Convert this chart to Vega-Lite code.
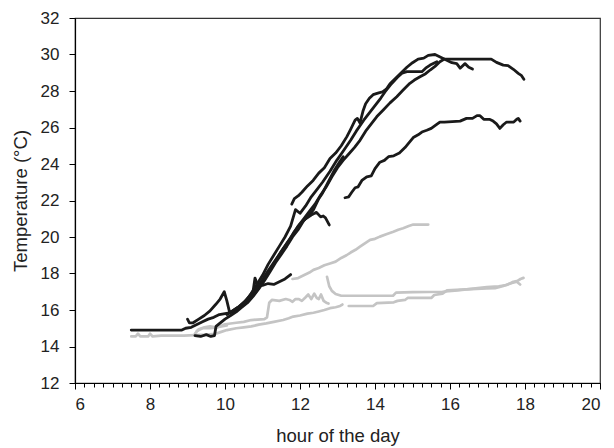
{
  "$schema": "https://vega.github.io/schema/vega-lite/v6.json",
  "width": 525,
  "height": 365,
  "autosize": "none",
  "padding": {"left": 75, "top": 18, "right": 14, "bottom": 65},
  "background": "white",
  "config": {
    "font": "Liberation Sans",
    "view": {"stroke": "#333", "strokeWidth": 1.2},
    "axis": {"grid": false, "domainColor": "#000", "tickColor": "#000", "labelColor": "#222", "titleColor": "#222", "labelFontSize": 17, "titleFontSize": 18.5, "titleFontWeight": "normal", "domainWidth": 1.2, "tickWidth": 1}
  },
  "data": {"values": [
    {"s":"B1","g":"k","x":11.78,"y":21.8},{"s":"B1","g":"k","x":11.85,"y":22.1},{"s":"B1","g":"k","x":11.95,"y":22.25},{"s":"B1","g":"k","x":12.05,"y":22.45},{"s":"B1","g":"k","x":12.2,"y":22.8},{"s":"B1","g":"k","x":12.35,"y":23.1},{"s":"B1","g":"k","x":12.5,"y":23.5},{"s":"B1","g":"k","x":12.65,"y":23.8},{"s":"B1","g":"k","x":12.8,"y":24.3},{"s":"B1","g":"k","x":12.95,"y":24.6},{"s":"B1","g":"k","x":13.1,"y":25.0},{"s":"B1","g":"k","x":13.25,"y":25.5},{"s":"B1","g":"k","x":13.35,"y":25.9},{"s":"B1","g":"k","x":13.47,"y":26.4},{"s":"B1","g":"k","x":13.53,"y":26.5},{"s":"B1","g":"k","x":13.6,"y":26.25},{"s":"B1","g":"k","x":13.68,"y":26.9},{"s":"B1","g":"k","x":13.75,"y":27.3},{"s":"B1","g":"k","x":13.85,"y":27.6},{"s":"B1","g":"k","x":13.95,"y":27.8},{"s":"B1","g":"k","x":14.1,"y":27.9},{"s":"B1","g":"k","x":14.2,"y":27.95},{"s":"B1","g":"k","x":14.3,"y":28.1},{"s":"B1","g":"k","x":14.4,"y":28.4},{"s":"B1","g":"k","x":14.55,"y":28.7},{"s":"B1","g":"k","x":14.7,"y":29.0},{"s":"B1","g":"k","x":14.85,"y":29.3},{"s":"B1","g":"k","x":15.0,"y":29.55},{"s":"B1","g":"k","x":15.15,"y":29.75},{"s":"B1","g":"k","x":15.3,"y":29.8},{"s":"B1","g":"k","x":15.42,"y":29.95},{"s":"B1","g":"k","x":15.6,"y":30.0},{"s":"B1","g":"k","x":15.75,"y":29.85},{"s":"B1","g":"k","x":15.9,"y":29.7},{"s":"B1","g":"k","x":16.05,"y":29.55},{"s":"B1","g":"k","x":16.18,"y":29.5},{"s":"B1","g":"k","x":16.27,"y":29.25},{"s":"B1","g":"k","x":16.4,"y":29.5},{"s":"B1","g":"k","x":16.5,"y":29.3},{"s":"B1","g":"k","x":16.6,"y":29.2},
    {"s":"B2","g":"k","x":9.0,"y":15.5},{"s":"B2","g":"k","x":9.05,"y":15.3},{"s":"B2","g":"k","x":9.15,"y":15.3},{"s":"B2","g":"k","x":9.3,"y":15.5},{"s":"B2","g":"k","x":9.45,"y":15.7},{"s":"B2","g":"k","x":9.6,"y":15.95},{"s":"B2","g":"k","x":9.75,"y":16.3},{"s":"B2","g":"k","x":9.87,"y":16.6},{"s":"B2","g":"k","x":9.98,"y":17.0},{"s":"B2","g":"k","x":10.05,"y":16.5},{"s":"B2","g":"k","x":10.12,"y":15.9},{"s":"B2","g":"k","x":10.25,"y":15.95},{"s":"B2","g":"k","x":10.4,"y":16.2},{"s":"B2","g":"k","x":10.55,"y":16.5},{"s":"B2","g":"k","x":10.7,"y":16.9},{"s":"B2","g":"k","x":10.85,"y":17.4},{"s":"B2","g":"k","x":11.0,"y":17.9},{"s":"B2","g":"k","x":11.15,"y":18.5},{"s":"B2","g":"k","x":11.3,"y":19.0},{"s":"B2","g":"k","x":11.45,"y":19.5},{"s":"B2","g":"k","x":11.6,"y":20.0},{"s":"B2","g":"k","x":11.75,"y":20.6},{"s":"B2","g":"k","x":11.88,"y":21.5},{"s":"B2","g":"k","x":12.0,"y":21.3},{"s":"B2","g":"k","x":12.15,"y":21.7},{"s":"B2","g":"k","x":12.3,"y":22.2},{"s":"B2","g":"k","x":12.45,"y":22.6},{"s":"B2","g":"k","x":12.6,"y":23.0},{"s":"B2","g":"k","x":12.8,"y":23.6},{"s":"B2","g":"k","x":12.98,"y":24.2},{"s":"B2","g":"k","x":13.15,"y":24.7},{"s":"B2","g":"k","x":13.35,"y":25.3},{"s":"B2","g":"k","x":13.5,"y":25.8},{"s":"B2","g":"k","x":13.7,"y":26.4},{"s":"B2","g":"k","x":13.85,"y":26.8},{"s":"B2","g":"k","x":14.0,"y":27.2},{"s":"B2","g":"k","x":14.15,"y":27.6},{"s":"B2","g":"k","x":14.27,"y":27.96},{"s":"B2","g":"k","x":14.44,"y":28.4},{"s":"B2","g":"k","x":14.6,"y":28.75},{"s":"B2","g":"k","x":14.72,"y":28.97},{"s":"B2","g":"k","x":14.85,"y":29.06},{"s":"B2","g":"k","x":15.25,"y":29.06},{"s":"B2","g":"k","x":15.35,"y":29.25},{"s":"B2","g":"k","x":15.47,"y":29.42},{"s":"B2","g":"k","x":15.65,"y":29.6},
    {"s":"B3","g":"k","x":7.5,"y":14.9},{"s":"B3","g":"k","x":8.85,"y":14.9},{"s":"B3","g":"k","x":8.95,"y":15.0},{"s":"B3","g":"k","x":9.1,"y":15.05},{"s":"B3","g":"k","x":9.25,"y":15.2},{"s":"B3","g":"k","x":9.4,"y":15.35},{"s":"B3","g":"k","x":9.55,"y":15.5},{"s":"B3","g":"k","x":9.7,"y":15.6},{"s":"B3","g":"k","x":9.85,"y":15.75},{"s":"B3","g":"k","x":10.0,"y":15.8},{"s":"B3","g":"k","x":10.15,"y":15.85},{"s":"B3","g":"k","x":10.3,"y":16.0},{"s":"B3","g":"k","x":10.45,"y":16.2},{"s":"B3","g":"k","x":10.6,"y":16.45},{"s":"B3","g":"k","x":10.75,"y":16.8},{"s":"B3","g":"k","x":10.9,"y":17.2},{"s":"B3","g":"k","x":11.05,"y":17.7},{"s":"B3","g":"k","x":11.2,"y":18.2},{"s":"B3","g":"k","x":11.35,"y":18.7},{"s":"B3","g":"k","x":11.5,"y":19.2},{"s":"B3","g":"k","x":11.65,"y":19.65},{"s":"B3","g":"k","x":11.8,"y":20.1},{"s":"B3","g":"k","x":11.95,"y":20.6},{"s":"B3","g":"k","x":12.1,"y":21.0},{"s":"B3","g":"k","x":12.25,"y":21.4},{"s":"B3","g":"k","x":12.4,"y":21.8},{"s":"B3","g":"k","x":12.55,"y":22.3},{"s":"B3","g":"k","x":12.7,"y":22.75},{"s":"B3","g":"k","x":12.85,"y":23.3},{"s":"B3","g":"k","x":13.0,"y":23.8},{"s":"B3","g":"k","x":13.15,"y":24.2},{"s":"B3","g":"k","x":13.3,"y":24.55},{"s":"B3","g":"k","x":13.45,"y":24.9},{"s":"B3","g":"k","x":13.6,"y":25.3},{"s":"B3","g":"k","x":13.75,"y":25.8},{"s":"B3","g":"k","x":13.9,"y":26.2},{"s":"B3","g":"k","x":14.05,"y":26.6},{"s":"B3","g":"k","x":14.22,"y":26.96},{"s":"B3","g":"k","x":14.4,"y":27.35},{"s":"B3","g":"k","x":14.58,"y":27.69},{"s":"B3","g":"k","x":14.75,"y":28.05},{"s":"B3","g":"k","x":14.93,"y":28.42},{"s":"B3","g":"k","x":15.05,"y":28.6},{"s":"B3","g":"k","x":15.2,"y":28.78},{"s":"B3","g":"k","x":15.35,"y":28.95},{"s":"B3","g":"k","x":15.47,"y":29.15},{"s":"B3","g":"k","x":15.6,"y":29.35},{"s":"B3","g":"k","x":15.73,"y":29.6},{"s":"B3","g":"k","x":15.85,"y":29.75},{"s":"B3","g":"k","x":17.1,"y":29.75},{"s":"B3","g":"k","x":17.24,"y":29.57},{"s":"B3","g":"k","x":17.42,"y":29.42},{"s":"B3","g":"k","x":17.55,"y":29.39},{"s":"B3","g":"k","x":17.69,"y":29.19},{"s":"B3","g":"k","x":17.82,"y":28.97},{"s":"B3","g":"k","x":17.9,"y":28.86},{"s":"B3","g":"k","x":17.97,"y":28.64},
    {"s":"B4","g":"k","x":9.2,"y":14.6},{"s":"B4","g":"k","x":9.35,"y":14.55},{"s":"B4","g":"k","x":9.5,"y":14.65},{"s":"B4","g":"k","x":9.62,"y":14.55},{"s":"B4","g":"k","x":9.72,"y":14.6},{"s":"B4","g":"k","x":9.76,"y":15.1},{"s":"B4","g":"k","x":9.85,"y":15.25},{"s":"B4","g":"k","x":10.0,"y":15.5},{"s":"B4","g":"k","x":10.15,"y":15.7},{"s":"B4","g":"k","x":10.3,"y":15.9},{"s":"B4","g":"k","x":10.45,"y":16.15},{"s":"B4","g":"k","x":10.6,"y":16.4},{"s":"B4","g":"k","x":10.75,"y":16.75},{"s":"B4","g":"k","x":10.9,"y":17.15},{"s":"B4","g":"k","x":11.05,"y":17.6},{"s":"B4","g":"k","x":11.2,"y":18.1},{"s":"B4","g":"k","x":11.35,"y":18.6},{"s":"B4","g":"k","x":11.5,"y":19.05},{"s":"B4","g":"k","x":11.65,"y":19.5},{"s":"B4","g":"k","x":11.8,"y":20.0},{"s":"B4","g":"k","x":11.95,"y":20.4},{"s":"B4","g":"k","x":12.1,"y":20.9},{"s":"B4","g":"k","x":12.25,"y":21.2},{"s":"B4","g":"k","x":12.36,"y":21.5},{"s":"B4","g":"k","x":12.5,"y":22.1},{"s":"B4","g":"k","x":12.6,"y":22.4},{"s":"B4","g":"k","x":12.75,"y":23.0},{"s":"B4","g":"k","x":12.9,"y":23.6},{"s":"B4","g":"k","x":13.05,"y":24.1},{"s":"B4","g":"k","x":13.15,"y":24.4},
    {"s":"B5","g":"k","x":10.05,"y":15.75},{"s":"B5","g":"k","x":10.2,"y":15.95},{"s":"B5","g":"k","x":10.35,"y":16.15},{"s":"B5","g":"k","x":10.5,"y":16.4},{"s":"B5","g":"k","x":10.65,"y":16.7},{"s":"B5","g":"k","x":10.8,"y":17.05},{"s":"B5","g":"k","x":10.95,"y":17.5},{"s":"B5","g":"k","x":11.1,"y":18.0},{"s":"B5","g":"k","x":11.25,"y":18.45},{"s":"B5","g":"k","x":11.4,"y":18.9},{"s":"B5","g":"k","x":11.55,"y":19.35},{"s":"B5","g":"k","x":11.7,"y":19.8},{"s":"B5","g":"k","x":11.85,"y":20.3},{"s":"B5","g":"k","x":12.0,"y":20.7},{"s":"B5","g":"k","x":12.15,"y":21.0},{"s":"B5","g":"k","x":12.3,"y":21.2},{"s":"B5","g":"k","x":12.44,"y":21.35},{"s":"B5","g":"k","x":12.55,"y":21.1},{"s":"B5","g":"k","x":12.62,"y":21.15},{"s":"B5","g":"k","x":12.68,"y":21.05},{"s":"B5","g":"k","x":12.78,"y":20.66},
    {"s":"B6","g":"k","x":10.2,"y":15.95},{"s":"B6","g":"k","x":10.35,"y":16.15},{"s":"B6","g":"k","x":10.5,"y":16.4},{"s":"B6","g":"k","x":10.65,"y":16.75},{"s":"B6","g":"k","x":10.75,"y":17.05},{"s":"B6","g":"k","x":10.8,"y":17.75},{"s":"B6","g":"k","x":10.86,"y":17.4},{"s":"B6","g":"k","x":11.0,"y":17.35},{"s":"B6","g":"k","x":11.15,"y":17.45},{"s":"B6","g":"k","x":11.3,"y":17.4},{"s":"B6","g":"k","x":11.45,"y":17.55},{"s":"B6","g":"k","x":11.6,"y":17.7},{"s":"B6","g":"k","x":11.75,"y":17.94},
    {"s":"B7","g":"k","x":13.2,"y":22.15},{"s":"B7","g":"k","x":13.3,"y":22.2},{"s":"B7","g":"k","x":13.38,"y":22.45},{"s":"B7","g":"k","x":13.47,"y":22.7},{"s":"B7","g":"k","x":13.55,"y":22.75},{"s":"B7","g":"k","x":13.65,"y":23.1},{"s":"B7","g":"k","x":13.78,"y":23.3},{"s":"B7","g":"k","x":13.9,"y":23.35},{"s":"B7","g":"k","x":14.0,"y":23.75},{"s":"B7","g":"k","x":14.13,"y":24.1},{"s":"B7","g":"k","x":14.25,"y":24.2},{"s":"B7","g":"k","x":14.36,"y":24.4},{"s":"B7","g":"k","x":14.5,"y":24.45},{"s":"B7","g":"k","x":14.65,"y":24.6},{"s":"B7","g":"k","x":14.8,"y":24.9},{"s":"B7","g":"k","x":14.92,"y":25.2},{"s":"B7","g":"k","x":15.02,"y":25.45},{"s":"B7","g":"k","x":15.15,"y":25.6},{"s":"B7","g":"k","x":15.25,"y":25.75},{"s":"B7","g":"k","x":15.38,"y":25.85},{"s":"B7","g":"k","x":15.5,"y":25.95},{"s":"B7","g":"k","x":15.6,"y":26.1},{"s":"B7","g":"k","x":15.73,"y":26.3},{"s":"B7","g":"k","x":15.85,"y":26.3},{"s":"B7","g":"k","x":16.27,"y":26.35},{"s":"B7","g":"k","x":16.44,"y":26.5},{"s":"B7","g":"k","x":16.6,"y":26.5},{"s":"B7","g":"k","x":16.72,"y":26.65},{"s":"B7","g":"k","x":16.8,"y":26.65},{"s":"B7","g":"k","x":16.9,"y":26.45},{"s":"B7","g":"k","x":17.05,"y":26.45},{"s":"B7","g":"k","x":17.15,"y":26.35},{"s":"B7","g":"k","x":17.24,"y":26.2},{"s":"B7","g":"k","x":17.33,"y":25.95},{"s":"B7","g":"k","x":17.42,"y":26.15},{"s":"B7","g":"k","x":17.51,"y":26.3},{"s":"B7","g":"k","x":17.7,"y":26.3},{"s":"B7","g":"k","x":17.78,"y":26.45},{"s":"B7","g":"k","x":17.82,"y":26.5},{"s":"B7","g":"k","x":17.87,"y":26.35},
    {"s":"G1","g":"g","x":11.8,"y":17.7},{"s":"G1","g":"g","x":11.95,"y":17.75},{"s":"G1","g":"g","x":12.1,"y":17.9},{"s":"G1","g":"g","x":12.25,"y":18.05},{"s":"G1","g":"g","x":12.36,"y":18.2},{"s":"G1","g":"g","x":12.5,"y":18.3},{"s":"G1","g":"g","x":12.65,"y":18.45},{"s":"G1","g":"g","x":12.8,"y":18.55},{"s":"G1","g":"g","x":12.95,"y":18.65},{"s":"G1","g":"g","x":13.1,"y":18.85},{"s":"G1","g":"g","x":13.24,"y":19.0},{"s":"G1","g":"g","x":13.35,"y":19.15},{"s":"G1","g":"g","x":13.48,"y":19.3},{"s":"G1","g":"g","x":13.6,"y":19.47},{"s":"G1","g":"g","x":13.73,"y":19.65},{"s":"G1","g":"g","x":13.87,"y":19.84},{"s":"G1","g":"g","x":14.0,"y":19.9},{"s":"G1","g":"g","x":14.13,"y":20.02},{"s":"G1","g":"g","x":14.3,"y":20.15},{"s":"G1","g":"g","x":14.49,"y":20.29},{"s":"G1","g":"g","x":14.62,"y":20.4},{"s":"G1","g":"g","x":14.75,"y":20.48},{"s":"G1","g":"g","x":14.9,"y":20.6},{"s":"G1","g":"g","x":15.02,"y":20.68},{"s":"G1","g":"g","x":15.42,"y":20.68},
    {"s":"G0","g":"g","x":7.5,"y":14.55},{"s":"G0","g":"g","x":7.62,"y":14.55},{"s":"G0","g":"g","x":7.68,"y":14.7},{"s":"G0","g":"g","x":7.74,"y":14.55},{"s":"G0","g":"g","x":7.95,"y":14.55},{"s":"G0","g":"g","x":8.0,"y":14.7},{"s":"G0","g":"g","x":8.07,"y":14.55},{"s":"G0","g":"g","x":8.3,"y":14.6},{"s":"G0","g":"g","x":8.9,"y":14.6},{"s":"G0","g":"g","x":9.2,"y":14.62},{"s":"G0","g":"g","x":9.5,"y":14.65},{"s":"G0","g":"g","x":9.75,"y":14.7},{"s":"G0","g":"g","x":9.9,"y":14.8},{"s":"G0","g":"g","x":10.05,"y":14.9},{"s":"G0","g":"g","x":10.3,"y":15.0},{"s":"G0","g":"g","x":10.5,"y":15.05},{"s":"G0","g":"g","x":10.7,"y":15.1},{"s":"G0","g":"g","x":10.9,"y":15.2},{"s":"G0","g":"g","x":11.1,"y":15.27},{"s":"G0","g":"g","x":11.3,"y":15.35},{"s":"G0","g":"g","x":11.55,"y":15.45},{"s":"G0","g":"g","x":11.7,"y":15.55},{"s":"G0","g":"g","x":11.82,"y":15.64},{"s":"G0","g":"g","x":12.0,"y":15.7},{"s":"G0","g":"g","x":12.2,"y":15.8},{"s":"G0","g":"g","x":12.36,"y":15.85},{"s":"G0","g":"g","x":12.5,"y":15.92},{"s":"G0","g":"g","x":12.65,"y":16.0},{"s":"G0","g":"g","x":12.8,"y":16.1},{"s":"G0","g":"g","x":12.95,"y":16.15},{"s":"G0","g":"g","x":13.07,"y":16.22},{"s":"G0","g":"g","x":13.13,"y":16.3},
    {"s":"G3","g":"g","x":13.3,"y":16.22},{"s":"G3","g":"g","x":13.95,"y":16.22},{"s":"G3","g":"g","x":14.05,"y":16.38},{"s":"G3","g":"g","x":14.5,"y":16.42},{"s":"G3","g":"g","x":14.6,"y":16.5},{"s":"G3","g":"g","x":14.8,"y":16.55},{"s":"G3","g":"g","x":14.87,"y":16.66},{"s":"G3","g":"g","x":15.5,"y":16.66},{"s":"G3","g":"g","x":15.58,"y":16.82},{"s":"G3","g":"g","x":15.8,"y":16.9},{"s":"G3","g":"g","x":15.92,"y":17.08},{"s":"G3","g":"g","x":16.3,"y":17.12},{"s":"G3","g":"g","x":16.98,"y":17.18},{"s":"G3","g":"g","x":17.2,"y":17.2},{"s":"G3","g":"g","x":17.4,"y":17.3},{"s":"G3","g":"g","x":17.6,"y":17.45},{"s":"G3","g":"g","x":17.78,"y":17.55},{"s":"G3","g":"g","x":17.87,"y":17.4},
    {"s":"G2","g":"g","x":12.72,"y":17.82},{"s":"G2","g":"g","x":12.78,"y":17.3},{"s":"G2","g":"g","x":12.85,"y":17.05},{"s":"G2","g":"g","x":12.95,"y":16.88},{"s":"G2","g":"g","x":13.1,"y":16.78},{"s":"G2","g":"g","x":14.48,"y":16.78},{"s":"G2","g":"g","x":14.56,"y":16.95},{"s":"G2","g":"g","x":15.0,"y":16.98},{"s":"G2","g":"g","x":15.8,"y":17.0},{"s":"G2","g":"g","x":16.2,"y":17.08},{"s":"G2","g":"g","x":16.98,"y":17.25},{"s":"G2","g":"g","x":17.3,"y":17.3},{"s":"G2","g":"g","x":17.51,"y":17.37},{"s":"G2","g":"g","x":17.6,"y":17.45},{"s":"G2","g":"g","x":17.69,"y":17.55},{"s":"G2","g":"g","x":17.8,"y":17.6},{"s":"G2","g":"g","x":17.88,"y":17.7},{"s":"G2","g":"g","x":17.96,"y":17.76},
    {"s":"G4","g":"g","x":9.25,"y":14.85},{"s":"G4","g":"g","x":9.4,"y":15.0},{"s":"G4","g":"g","x":9.6,"y":15.0},{"s":"G4","g":"g","x":9.8,"y":15.05},{"s":"G4","g":"g","x":10.0,"y":15.22},{"s":"G4","g":"g","x":10.3,"y":15.3},{"s":"G4","g":"g","x":10.5,"y":15.35},{"s":"G4","g":"g","x":10.7,"y":15.45},{"s":"G4","g":"g","x":11.05,"y":15.5},{"s":"G4","g":"g","x":11.12,"y":15.6},{"s":"G4","g":"g","x":11.18,"y":16.4},{"s":"G4","g":"g","x":11.25,"y":16.55},{"s":"G4","g":"g","x":11.45,"y":16.5},{"s":"G4","g":"g","x":11.62,"y":16.6},{"s":"G4","g":"g","x":11.72,"y":16.55},{"s":"G4","g":"g","x":11.8,"y":16.45},{"s":"G4","g":"g","x":11.88,"y":16.6},{"s":"G4","g":"g","x":11.97,"y":16.6},{"s":"G4","g":"g","x":12.05,"y":16.5},{"s":"G4","g":"g","x":12.15,"y":16.7},{"s":"G4","g":"g","x":12.22,"y":16.85},{"s":"G4","g":"g","x":12.3,"y":16.6},{"s":"G4","g":"g","x":12.38,"y":16.9},{"s":"G4","g":"g","x":12.45,"y":16.65},{"s":"G4","g":"g","x":12.5,"y":16.6},{"s":"G4","g":"g","x":12.56,"y":16.85},{"s":"G4","g":"g","x":12.63,"y":16.5},{"s":"G4","g":"g","x":12.7,"y":16.4},{"s":"G4","g":"g","x":12.76,"y":16.35},
    {"s":"G5","g":"g","x":9.2,"y":14.7},{"s":"G5","g":"g","x":9.3,"y":14.95},{"s":"G5","g":"g","x":9.45,"y":15.05},{"s":"G5","g":"g","x":9.6,"y":15.1},{"s":"G5","g":"g","x":9.75,"y":15.05},{"s":"G5","g":"g","x":9.9,"y":15.1},{"s":"G5","g":"g","x":10.05,"y":15.15}
  ]},
  "layer": [
    {
      "transform": [{"filter": "datum.g == 'g'"}],
      "mark": {"type": "line", "color": "#c4c4c4", "strokeWidth": 2.7, "strokeJoin": "round", "strokeCap": "round"},
      "encoding": {
        "x": {"field": "x", "type": "quantitative", "scale": {"domain": [6, 20], "nice": false, "zero": false},
              "axis": {"orient": "bottom", "values": [6,6.25,6.5,6.75,7,7.25,7.5,7.75,8,8.25,8.5,8.75,9,9.25,9.5,9.75,10,10.25,10.5,10.75,11,11.25,11.5,11.75,12,12.25,12.5,12.75,13,13.25,13.5,13.75,14,14.25,14.5,14.75,15,15.25,15.5,15.75,16,16.25,16.5,16.75,17,17.25,17.5,17.75,18,18.25,18.5,18.75,19,19.25,19.5,19.75,20], "labels": false, "domain": false, "tickSize": 4, "title": null}},
        "y": {"field": "y", "type": "quantitative", "scale": {"domain": [12, 32], "nice": false, "zero": false}, "axis": null},
        "detail": {"field": "s"}
      }
    },
    {
      "transform": [{"filter": "datum.g == 'k'"}],
      "mark": {"type": "line", "color": "#1a1a1a", "strokeWidth": 2.8, "strokeJoin": "round", "strokeCap": "round"},
      "encoding": {
        "x": {"field": "x", "type": "quantitative", "scale": {"domain": [6, 20], "nice": false, "zero": false},
              "axis": {"orient": "bottom", "values": [6,8,10,12,14,16,18,20], "tickSize": 6, "labelPadding": 7, "title": "hour of the day", "titlePadding": 14}},
        "y": {"field": "y", "type": "quantitative", "scale": {"domain": [12, 32], "nice": false, "zero": false},
              "axis": {"values": [12,14,16,18,20,22,24,26,28,30,32], "tickSize": 6, "labelPadding": 10, "title": "Temperature (°C)", "titlePadding": 10}},
        "detail": {"field": "s"}
      }
    }
  ],
  "resolve": {"axis": {"x": "independent", "y": "independent"}}
}
